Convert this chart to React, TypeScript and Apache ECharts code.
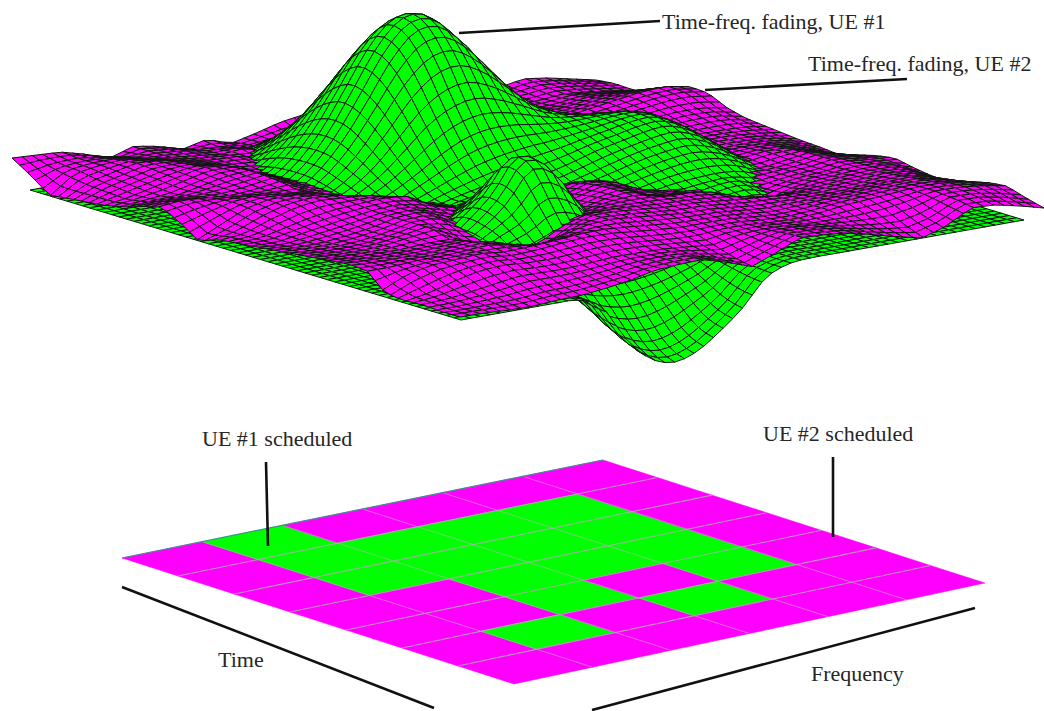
import React, { useEffect, useRef } from "react";
import * as echarts from "echarts";

// Heights (px above the ground plane). Row = time index, column = frequency index.
const fadingUe1: number[][] = [
  [0,0,0,0,0,0,1,2,4,6,8,10,10,8,6,4,2,1,0,0,0,0,0,0,0],
  [0,0,0,0,0,1,2,5,9,14,19,23,23,19,14,9,5,2,1,0,0,0,0,0,0],
  [0,0,0,0,1,2,4,9,17,28,38,45,45,38,28,17,9,4,2,1,0,0,0,0,0],
  [0,0,0,0,1,3,7,15,29,47,65,76,76,65,47,30,17,9,5,3,1,0,0,0,0],
  [0,0,0,0,1,4,10,23,43,69,95,112,112,96,71,46,27,14,9,5,2,1,0,0,0],
  [0,0,0,0,2,5,13,29,54,87,121,142,143,123,92,60,37,22,14,10,5,2,1,0,0],
  [0,0,0,0,2,5,14,31,59,96,133,157,159,138,104,70,45,29,21,16,9,3,1,0,0],
  [0,0,0,0,2,5,13,30,56,90,126,150,152,133,104,74,52,38,31,24,14,5,2,1,0],
  [0,0,0,0,1,4,11,24,45,74,104,124,128,115,93,71,56,47,42,33,21,8,3,1,0],
  [0,0,0,0,1,3,8,17,32,53,75,89,94,88,77,65,58,54,51,42,26,10,4,1,0],
  [0,0,0,0,0,2,5,10,20,33,47,58,63,63,60,58,58,59,58,49,31,11,4,2,0],
  [0,0,0,0,0,1,2,5,11,19,27,34,39,43,46,50,54,58,59,49,32,12,5,2,0],
  [0,0,0,0,0,0,1,3,9,15,19,21,25,29,35,42,47,52,54,45,29,11,4,2,0],
  [0,0,0,0,0,0,1,4,15,25,26,20,17,20,26,32,38,42,44,37,24,9,4,1,0],
  [0,0,0,0,0,0,5,16,30,51,47,26,14,14,18,23,28,32,33,28,18,7,3,1,0],
  [0,0,0,0,0,0,6,24,45,75,68,34,12,9,11,15,19,21,22,19,10,4,2,1,0],
  [0,0,0,0,0,0,8,22,43,72,64,31,10,6,7,9,11,16,18,10,5,3,1,0,0],
  [0,0,0,0,0,0,4,15,26,44,38,18,6,4,4,5,6,11,12,6,3,1,1,0,0],
  [0,0,0,0,0,0,0,3,9,16,14,7,2,0,2,2,3,3,3,3,2,1,0,0,0],
  [0,0,0,0,0,0,-1,-1,0,1,1,0,-1,0,0,1,1,1,1,1,1,0,0,0,0],
  [0,0,0,0,0,0,-2,-6,-10,-11,-10,-8,-5,-2,0,0,0,0,0,0,0,0,0,0,0],
  [0,0,0,0,0,0,-4,-15,-23,-26,-24,-19,-12,-4,-1,0,0,0,0,0,0,0,0,0,0],
  [0,0,0,0,0,-1,-7,-29,-43,-49,-45,-35,-23,-7,-1,0,0,0,0,0,0,0,0,0,0],
  [0,0,0,0,0,-1,-10,-41,-62,-70,-65,-51,-33,-10,-2,0,0,0,0,0,0,0,0,0,0],
  [0,0,0,0,0,-1,-12,-47,-71,-80,-74,-58,-38,-12,-2,0,0,0,0,0,0,0,0,0,0],
];

const fadingUe2: number[][] = [
  [30,29,28,22,14,22,18,11,17,9,15,22,26,30,30,30,28,28,25,24,21,26,23,18,13],
  [18,24,26,24,20,22,20,16,14,12,14,16,18,20,22,24,24,24,22,22,20,24,22,18,15],
  [4,22,26,28,24,22,20,17,20,12,14,15,16,16,18,20,22,22,22,20,19,22,20,17,14],
  [6,18,24,30,28,24,20,20,14,12,12,12,13,13,14,16,18,20,22,20,20,24,24,22,18],
  [8,16,22,28,30,26,20,18,13,12,12,12,12,12,12,14,16,18,20,22,24,28,30,30,26],
  [10,14,20,26,32,30,20,14,12,12,12,12,12,12,12,12,14,16,20,24,28,32,36,38,34],
  [14,16,18,24,30,32,22,14,12,12,12,12,12,12,12,12,14,16,20,24,26,30,34,36,33],
  [20,22,22,24,28,32,22,15,12,12,12,12,12,12,12,14,14,16,18,20,24,26,28,28,24],
  [25,28,26,24,26,30,20,14,12,12,12,12,12,12,12,14,14,15,16,18,20,22,24,24,19],
  [15,22,28,30,28,26,17,14,12,12,12,12,12,12,12,14,14,15,16,18,20,20,20,20,17],
  [2,14,26,32,32,30,22,14,12,12,14,14,14,14,14,14,14,14,14,16,18,20,20,18,15],
  [9,12,22,30,34,32,30,24,14,12,12,14,14,15,15,15,15,15,16,16,18,20,20,18,13],
  [11,12,18,24,28,30,32,30,18,12,12,14,15,16,16,16,16,16,17,18,20,22,22,18,12],
  [13,12,16,20,24,28,30,25,20,15,14,16,20,26,24,20,18,18,18,18,20,24,24,18,10],
  [15,14,15,18,22,28,30,22,14,14,14,16,24,32,28,16,18,20,22,22,18,22,26,20,15],
  [17,16,16,18,22,28,28,16,14,14,14,20,28,34,25,20,17,18,18,17,20,22,26,22,20],
  [19,18,18,20,24,28,18,12,14,14,16,24,30,34,24,22,20,13,10,16,20,22,26,24,23],
  [21,20,20,20,22,22,10,8,14,20,25,30,32,32,30,30,26,12,10,18,22,24,26,26,19],
  [23,22,22,22,24,26,22,10,10,26,34,34,32,30,30,28,26,24,22,22,24,26,28,26,16],
  [22,22,24,24,26,28,24,19,25,32,34,32,30,28,28,26,24,24,24,24,26,28,30,26,15],
  [5,18,24,26,28,25,27,30,32,32,30,28,26,26,26,24,22,24,26,28,30,32,32,28,21],
  [3,8,16,22,24,22,22,24,26,26,24,22,22,24,24,22,22,24,28,30,32,34,34,30,26],
  [4,5,8,12,16,16,16,18,20,20,20,18,16,22,24,24,22,22,22,24,28,34,34,32,28],
  [3,3,4,5,8,9,11,14,18,20,20,15,10,18,26,26,24,20,16,14,20,32,32,28,22],
  [3,3,2,2,4,5,8,12,18,20,21,14,6,16,27,26,24,18,12,7,15,29,28,23,17],
];

// 1 = UE #1 scheduled, 0 = UE #2 scheduled. Row = time slot, column = frequency band.
const schedule: number[][] = [
  [0,1,0,0,0,0],
  [0,1,1,1,1,0],
  [0,1,1,1,1,0],
  [0,0,1,1,1,0],
  [0,0,1,0,1,0],
  [0,1,0,1,0,0],
  [0,0,0,0,0,0],
];

const labels = {
  ue1: "Time-freq. fading, UE #1",
  ue2: "Time-freq. fading, UE #2",
  s1: "UE #1 scheduled",
  s2: "UE #2 scheduled",
  time: "Time",
  freq: "Frequency",
};

const GREEN = "#00ff00";
const MAGENTA = "#ff00ff";
type P = [number, number];

const W = 1044;
const H = 711;
const MESH_CELLS = 58;
const GROUND_UE1 = { L: [30, 190] as P, F: [461, 320] as P, B: [593, 90] as P };
const GROUND_UE2 = { L: [12, 188] as P, F: [460, 320] as P, B: [596, 93] as P };
const PANEL = { L: [122, 558] as P, T: [603, 460] as P, B: [514, 684] as P, R: [985, 583] as P };

const curve = (a: number, b: number, c: number, d: number, t: number) =>
  b + 0.5 * t * (c - a + t * (2 * a - 5 * b + 4 * c - d + t * (3 * (b - c) + d - a)));

function meshQuads(grid: number[][], g: { L: P; F: P; B: P }, surface: number, rounded: boolean) {
  const n = grid.length - 1;
  const m = grid[0].length - 1;
  const out: { key: number; z: number; v: number[] }[] = [];
  const at = (i: number, j: number) => grid[Math.max(0, Math.min(n, i))][Math.max(0, Math.min(m, j))];
  const height = (a: number, b: number) => {
    const i0 = Math.min(Math.floor(a), n - 1);
    const j0 = Math.min(Math.floor(b), m - 1);
    const fa = a - i0;
    const fb = b - j0;
    if (rounded) {
      const row = (i: number) => curve(at(i, j0 - 1), at(i, j0), at(i, j0 + 1), at(i, j0 + 2), fb);
      return curve(row(i0 - 1), row(i0), row(i0 + 1), row(i0 + 2), fa);
    }
    return (
      at(i0, j0) * (1 - fa) * (1 - fb) +
      at(i0 + 1, j0) * fa * (1 - fb) +
      at(i0, j0 + 1) * (1 - fa) * fb +
      at(i0 + 1, j0 + 1) * fa * fb
    );
  };
  const proj = (a: number, b: number): P => {
    const u = a / n;
    const v = b / m;
    return [
      g.L[0] + u * (g.F[0] - g.L[0]) + v * (g.B[0] - g.L[0]),
      g.L[1] + u * (g.F[1] - g.L[1]) + v * (g.B[1] - g.L[1]) - height(a, b),
    ];
  };
  const sa = n / MESH_CELLS;
  const sb = m / MESH_CELLS;
  for (let a = 0; a < MESH_CELLS; a++) {
    for (let b = 0; b < MESH_CELLS; b++) {
      const a0 = a * sa, a1 = (a + 1) * sa, b0 = b * sb, b1 = (b + 1) * sb;
      const p = [proj(a0, b0), proj(a1, b0), proj(a1, b1), proj(a0, b1)];
      const ca = (a + 0.5) / MESH_CELLS;
      const cb = (b + 0.5) / MESH_CELLS;
      const ground = g.L[1] + ca * (g.F[1] - g.L[1]) + cb * (g.B[1] - g.L[1]);
      const cy = (p[0][1] + p[1][1] + p[2][1] + p[3][1]) / 4;
      out.push({
        key: 130 * ca - 100 * cb,
        z: ground - cy,
        v: [p[0][0], p[0][1], p[1][0], p[1][1], p[2][0], p[2][1], p[3][0], p[3][1], surface],
      });
    }
  }
  return out;
}

function panelPoint(r: number, c: number): P {
  const u = r / schedule.length;
  const v = c / schedule[0].length;
  const w = (k: number) =>
    PANEL.L[k] * (1 - u) * (1 - v) + PANEL.B[k] * u * (1 - v) + PANEL.T[k] * (1 - u) * v + PANEL.R[k] * u * v;
  return [w(0), w(1)];
}

const surfaceStyle = (surface: number) => ({
  fill: surface === 0 ? GREEN : MAGENTA,
  stroke: "#0c180c",
  lineWidth: 1,
});

export default function App() {
  const ref = useRef<HTMLDivElement>(null);
  useEffect(() => {
    document.body.style.margin = "0";
    const chart = echarts.init(ref.current!, undefined, { renderer: "svg", width: W, height: H });

    const quads = [...meshQuads(fadingUe1, GROUND_UE1, 0, true), ...meshQuads(fadingUe2, GROUND_UE2, 1, false)];
    quads.sort((a, b) => a.key - b.key || a.z - b.z);

    const cells: number[][] = [];
    schedule.forEach((row, r) =>
      row.forEach((val, c) => {
        const p = [panelPoint(r, c), panelPoint(r + 1, c), panelPoint(r + 1, c + 1), panelPoint(r, c + 1)];
        cells.push([p[0][0], p[0][1], p[1][0], p[1][1], p[2][0], p[2][1], p[3][0], p[3][1], val]);
      })
    );
    const gridLines: number[][] = [];
    for (let r = 1; r < schedule.length; r++) {
      const a = panelPoint(r, 0), b = panelPoint(r, schedule[0].length);
      gridLines.push([a[0], a[1], b[0], b[1], 0]);
    }
    for (let c = 1; c < schedule[0].length; c++) {
      const a = panelPoint(0, c), b = panelPoint(schedule.length, c);
      gridLines.push([a[0], a[1], b[0], b[1], 1]);
    }
    const eL = panelPoint(0, 0), eT = panelPoint(0, schedule[0].length);
    gridLines.push([eL[0], eL[1], eT[0], eT[1], 2]);

    const polyItem = (api: any, style: any) => ({
      type: "polygon",
      shape: { points: [0, 2, 4, 6].map((k) => api.coord([api.value(k), api.value(k + 1)])) },
      style,
    });

    const text = (x: number, y: number, t: string, size = 22) => ({
      type: "text",
      x,
      y,
      z: 20,
      style: { text: t, fontFamily: "Liberation Serif", fontSize: size, fill: "#262626", textVerticalAlign: "middle" },
    });
    const rule = (x1: number, y1: number, x2: number, y2: number, w = 2.6) => ({
      type: "line",
      z: 20,
      shape: { x1, y1, x2, y2 },
      style: { stroke: "#111", lineWidth: w },
    });

    chart.setOption({
      animation: false,
      backgroundColor: "#fff",
      grid: { left: 0, right: 0, top: 0, bottom: 0 },
      xAxis: { type: "value", min: 0, max: W, show: false },
      yAxis: { type: "value", min: 0, max: H, inverse: true, show: false },
      series: [
        {
          type: "custom",
          coordinateSystem: "cartesian2d",
          clip: false,
          silent: true,
          progressive: 0,
          encode: { x: 0, y: 1 },
          data: quads.map((q) => q.v),
          renderItem: (_p: any, api: any) => polyItem(api, surfaceStyle(api.value(8))),
        },
        {
          type: "custom",
          coordinateSystem: "cartesian2d",
          clip: false,
          silent: true,
          encode: { x: 0, y: 1 },
          data: cells,
          renderItem: (_p: any, api: any) => {
            const col = api.value(8) ? GREEN : MAGENTA;
            return polyItem(api, { fill: col, stroke: col, lineWidth: 0.5 });
          },
        },
        {
          type: "custom",
          coordinateSystem: "cartesian2d",
          clip: false,
          silent: true,
          encode: { x: 0, y: 1 },
          data: gridLines,
          renderItem: (_p: any, api: any) => {
            const a = api.coord([api.value(0), api.value(1)]);
            const b = api.coord([api.value(2), api.value(3)]);
            const kind = api.value(4);
            return {
              type: "line",
              shape: { x1: a[0], y1: a[1], x2: b[0], y2: b[1] },
              style:
                kind === 0
                  ? { stroke: "rgba(170,170,170,0.85)", lineWidth: 1.1 }
                  : kind === 1
                  ? { stroke: "rgba(190,170,190,0.55)", lineWidth: 1 }
                  : { stroke: "#3f8f8f", lineWidth: 1.2 },
            };
          },
        },
      ],
      graphic: {
        elements: [
          rule(459, 33, 660, 21),
          rule(705, 90, 907, 79),
          rule(266, 462, 268, 546),
          rule(833, 457, 833, 537),
          rule(122, 587, 434, 708),
          rule(975, 608, 592, 710),
          text(662, 21, labels.ue1),
          text(808, 63, labels.ue2),
          text(202, 438, labels.s1),
          text(763, 433, labels.s2),
          text(218, 659, labels.time),
          text(811, 673, labels.freq),
        ],
      },
    });
    return () => chart.dispose();
  }, []);
  return <div ref={ref} style={{ width: W, height: H }} />;
}
